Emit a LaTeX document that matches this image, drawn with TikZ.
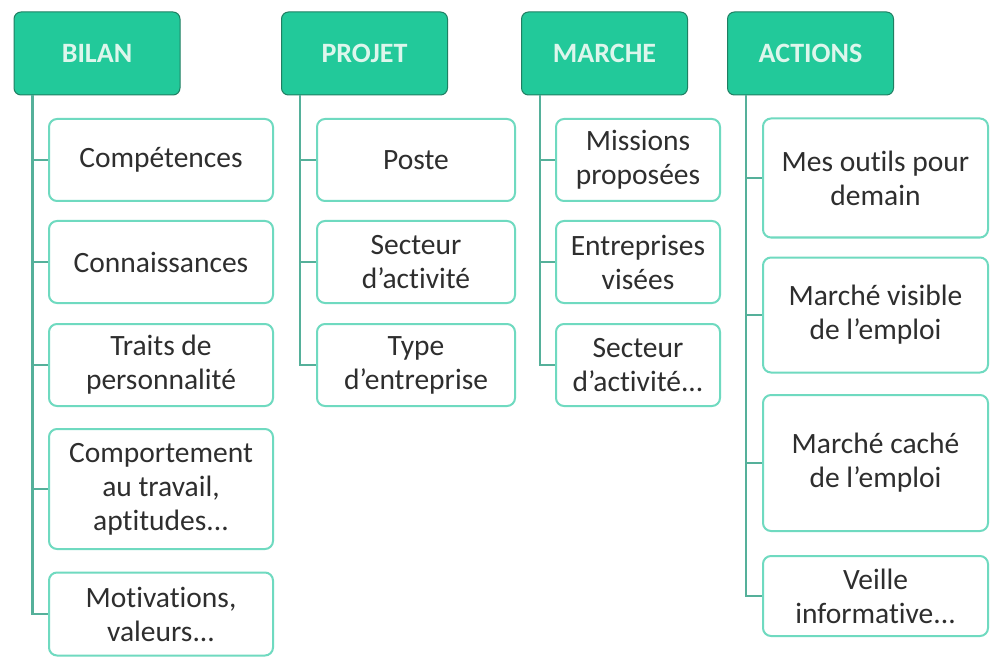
\documentclass[tikz,border=0pt]{standalone}
\usepackage{fontspec}
\setmainfont[Ligatures=NoCommon]{Carlito}
\definecolor{hdrfill}{HTML}{22C99A}
\definecolor{hdrdraw}{HTML}{1F7F62}
\definecolor{hdrtext}{HTML}{DDF6EC}
\definecolor{boxdraw}{HTML}{6FDAC0}
\definecolor{linecol}{HTML}{55B09A}
\definecolor{txt}{HTML}{2E2E2E}
\begin{document}
\begin{tikzpicture}[x=1pt,y=-1pt,
  hdr/.style={draw=hdrdraw, line width=1pt, fill=hdrfill, rounded corners=7pt,
    minimum width=166pt, minimum height=83pt, text=hdrtext,
    font=\fontsize{28}{32}\selectfont\bfseries, inner sep=0pt},
  cbox/.style={draw=boxdraw, line width=2pt, fill=white, rounded corners=8pt,
    align=center, text=txt, font=\fontsize{29.5}{34}\selectfont, inner sep=0pt},
  conn/.style={draw=linecol, line width=2.4pt}]
\useasboundingbox (0,0) rectangle (1000,660);
\fill[white] (0,0) rectangle (1000,660);
% headers
\node[hdr] (hb) at (97,53.5) {BILAN};
\node[hdr] (hp) at (364.5,53.5) {PROJET};
\node[hdr] (hm) at (604.5,53.5) {MARCHE};
\node[hdr] (ha) at (810.5,53.5) {ACTIONS};
% BILAN
\node[cbox, minimum width=224pt, minimum height=82pt] (b1) at (161,160) {Compétences};
\node[cbox, minimum width=224pt, minimum height=82pt] (b2) at (161,262) {Connaissances};
\node[cbox, minimum width=224pt, minimum height=82pt] (b3) at (161,365) {Traits de\\personnalité};
\node[cbox, minimum width=224pt, minimum height=120pt] (b4) at (161,489) {Comportement\\au travail,\\aptitudes...};
\node[cbox, minimum width=224pt, minimum height=83pt] (b5) at (161,614) {Motivations,\\valeurs...};
% PROJET
\node[cbox, minimum width=198pt, minimum height=82pt] (p1) at (416,160) {Poste};
\node[cbox, minimum width=198pt, minimum height=82pt] (p2) at (416,262) {Secteur\\d’activité};
\node[cbox, minimum width=198pt, minimum height=82pt] (p3) at (416,365) {Type\\d’entreprise};
% MARCHE
\node[cbox, minimum width=164pt, minimum height=82pt] (m1) at (638,160) {Missions\\proposées};
\node[cbox, minimum width=164pt, minimum height=82pt] (m2) at (638,262) {Entreprises\\visées};
\node[cbox, minimum width=164pt, minimum height=82pt] (m3) at (638,365) {Secteur\\d’activité...};
% ACTIONS
\node[cbox, minimum width=225pt, minimum height=119pt] (a1) at (875.5,178) {Mes outils pour\\demain};
\node[cbox, minimum width=225pt, minimum height=115pt] (a2) at (875.5,315) {Marché visible\\de l’emploi};
\node[cbox, minimum width=225pt, minimum height=136pt] (a3) at (875.5,463) {Marché caché\\de l’emploi};
\node[cbox, minimum width=225pt, minimum height=80pt] (a4) at (875.5,596) {Veille\\informative...};
% connectors
\foreach \h/\c in {hb/b1,hb/b2,hb/b3,hb/b4,hb/b5,hp/p1,hp/p2,hp/p3,hm/m1,hm/m2,hm/m3,ha/a1,ha/a2,ha/a3,ha/a4}{
  \draw[conn] ([xshift=19pt]\h.south west) |- (\c.west);
}
\end{tikzpicture}
\end{document}
